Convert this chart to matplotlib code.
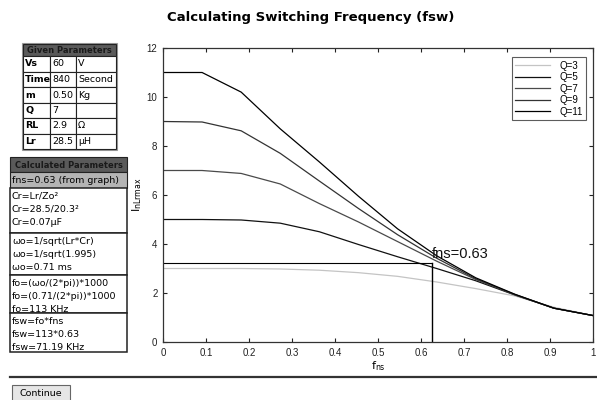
import matplotlib
matplotlib.use("Agg")
import matplotlib.pyplot as plt
from matplotlib.patches import Rectangle
import numpy as np

# ---- data ----
fns_x = [0, 0.0909, 0.1818, 0.2727, 0.3636, 0.4545, 0.5455, 0.6364, 0.7273, 0.8182, 0.9091, 1.0]
q_labels = ["Q=3", "Q=5", "Q=7", "Q=9", "Q=11"]
q3 = [3.0, 3.0, 3.0, 2.98, 2.93, 2.83, 2.68, 2.45, 2.18, 1.88, 1.42, 1.08]
q5 = [5.0, 5.0, 4.98, 4.85, 4.5, 3.98, 3.48, 3.0, 2.5, 1.92, 1.38, 1.08]
q7 = [7.0, 7.0, 6.88, 6.45, 5.65, 4.9, 4.1, 3.3, 2.55, 1.93, 1.38, 1.08]
q9 = [9.0, 8.98, 8.62, 7.7, 6.57, 5.45, 4.38, 3.42, 2.58, 1.94, 1.38, 1.08]
q11 = [11.0, 11.0, 10.2, 8.7, 7.35, 5.95, 4.62, 3.52, 2.62, 1.95, 1.38, 1.08]
q_colors = ["#c4c4c4", "#111111", "#4a4a4a", "#333333", "#000000"]
fns_val = 0.625
inlr_val = 3.22

given_rows = [("Vs", "60", "V"), ("Time", "840", "Second"), ("m", "0.50", "Kg"),
              ("Q", "7", ""), ("RL", "2.9", "\u03a9"), ("Lr", "28.5", "\u00b5H")]
calc_blocks = [
    ["Cr=Lr/Zo\u00b2", "Cr=28.5/20.3\u00b2", "Cr=0.07\u00b5F"],
    ["\u03c9o=1/sqrt(Lr*Cr)", "\u03c9o=1/sqrt(1.995)", "\u03c9o=0.71 ms"],
    ["fo=(\u03c9o/(2*pi))*1000", "fo=(0.71/(2*pi))*1000", "fo=113 KHz"],
    ["fsw=fo*fns", "fsw=113*0.63", "fsw=71.19 KHz"],
]

fig = plt.figure(figsize=(5.97, 4.0), dpi=100)

# ---- main plot ----
ax = fig.add_axes([163/597, 1-342/400, 430/597, 294/400])
for ys, lab, col in zip([q3, q5, q7, q9, q11], q_labels, q_colors):
    ax.plot(fns_x, ys, color=col, lw=0.9, label=lab)
ax.plot([0, fns_val], [inlr_val, inlr_val], color="k", lw=0.8)
ax.plot([fns_val, fns_val], [0, inlr_val], color="k", lw=1.0)
ax.text(fns_val, inlr_val + 0.1, "fns=0.63", fontsize=10.5, color="#111111",
        family="Liberation Sans", va="bottom", ha="left")
ax.set_xlim(0, 1)
ax.set_ylim(0, 12)
ax.set_xticks(np.arange(0, 1.01, 0.1))
ax.set_xticklabels(["0", "0.1", "0.2", "0.3", "0.4", "0.5", "0.6", "0.7", "0.8", "0.9", "1"])
ax.set_yticks(range(0, 13, 2))
ax.tick_params(direction="in", length=3, width=0.8, labelsize=7, top=True, right=True,
               colors="#222222", pad=4)
for lbl in ax.get_xticklabels() + ax.get_yticklabels():
    lbl.set_family("Liberation Sans")
for s in ax.spines.values():
    s.set_linewidth(0.9)
    s.set_color("#333333")
ax.set_xlabel(r"$\mathregular{f_{ns}}$", fontsize=8, labelpad=1)
ax.set_ylabel(r"$\mathregular{I_{nLrmax}}$", fontsize=8, labelpad=2)
leg = ax.legend(loc="upper right", bbox_to_anchor=(0.995, 0.985), frameon=True,
                fancybox=False, borderpad=0.35, labelspacing=0.15, handlelength=3.6,
                handletextpad=0.9, prop={"family": "Liberation Sans", "size": 7})
leg.get_frame().set_edgecolor("#333333")
leg.get_frame().set_linewidth(0.8)

# ---- page overlay in pixel coordinates ----
pg = fig.add_axes([0, 0, 1, 1], zorder=-1)
pg.set_xlim(0, 597)
pg.set_ylim(400, 0)
pg.axis("off")

fig.text(0.52, 1-17/400, "Calculating Switching Frequency (fsw)", ha="center", va="center",
         fontsize=9.5, fontweight="bold")

def cell(x, y, w, h, fc="white", lw=0.8):
    pg.add_patch(Rectangle((x, y), w, h, facecolor=fc, edgecolor="#222222", lw=lw))

# given parameters
gx, gy = 23, 44
col_w = [27, 26, 40]
pg.add_patch(Rectangle((gx - 1, gy - 1), sum(col_w) + 2, 12 + 15.5*6 + 2,
                       facecolor="none", edgecolor="#999999", lw=0.8))
cell(gx, gy, sum(col_w), 12, fc="#5a5a5a")
pg.text(gx + sum(col_w)/2, gy + 6.5, "Given Parameters", ha="center", va="center",
        fontsize=6.0, fontweight="bold", color="#1a1a1a")
for i, row in enumerate(given_rows):
    y = gy + 12 + 15.5*i
    x = gx
    for j, txt in enumerate(row):
        cell(x, y, col_w[j], 15.5)
        pg.text(x + 2, y + 8, txt, ha="left", va="center", fontsize=6.8,
                fontweight="bold" if j == 0 else "normal")
        x += col_w[j]

# calculated parameters
cx, cw = 10, 117
cell(cx, 157, cw, 15, fc="#5a5a5a")
pg.text(cx + cw/2, 165, "Calculated Parameters", ha="center", va="center",
        fontsize=6.0, fontweight="bold", color="#1a1a1a")
cell(cx, 172, cw, 16, fc="#b4b4b4")
pg.text(cx + 2, 180.5, "fns=0.63 (from graph)", ha="left", va="center", fontsize=6.8)
block_tops = [188, 233, 275, 313]
block_h = [45, 42, 38, 39]
for top, h, lines in zip(block_tops, block_h, calc_blocks):
    cell(cx, top, cw, h, lw=1.1)
    for k, txt in enumerate(lines):
        pg.text(cx + 2, top + 8 + 13.3*k, txt, ha="left", va="center", fontsize=6.8)

# rule and button
pg.plot([10, 597], [377, 377], color="#333333", lw=1.6)
pg.add_patch(Rectangle((12, 385), 58, 17, facecolor="#e6e6e6", edgecolor="#666666", lw=0.8))
pg.text(41, 394, "Continue", ha="center", va="center", fontsize=6.8)

fig.savefig("out.png", dpi=100)
